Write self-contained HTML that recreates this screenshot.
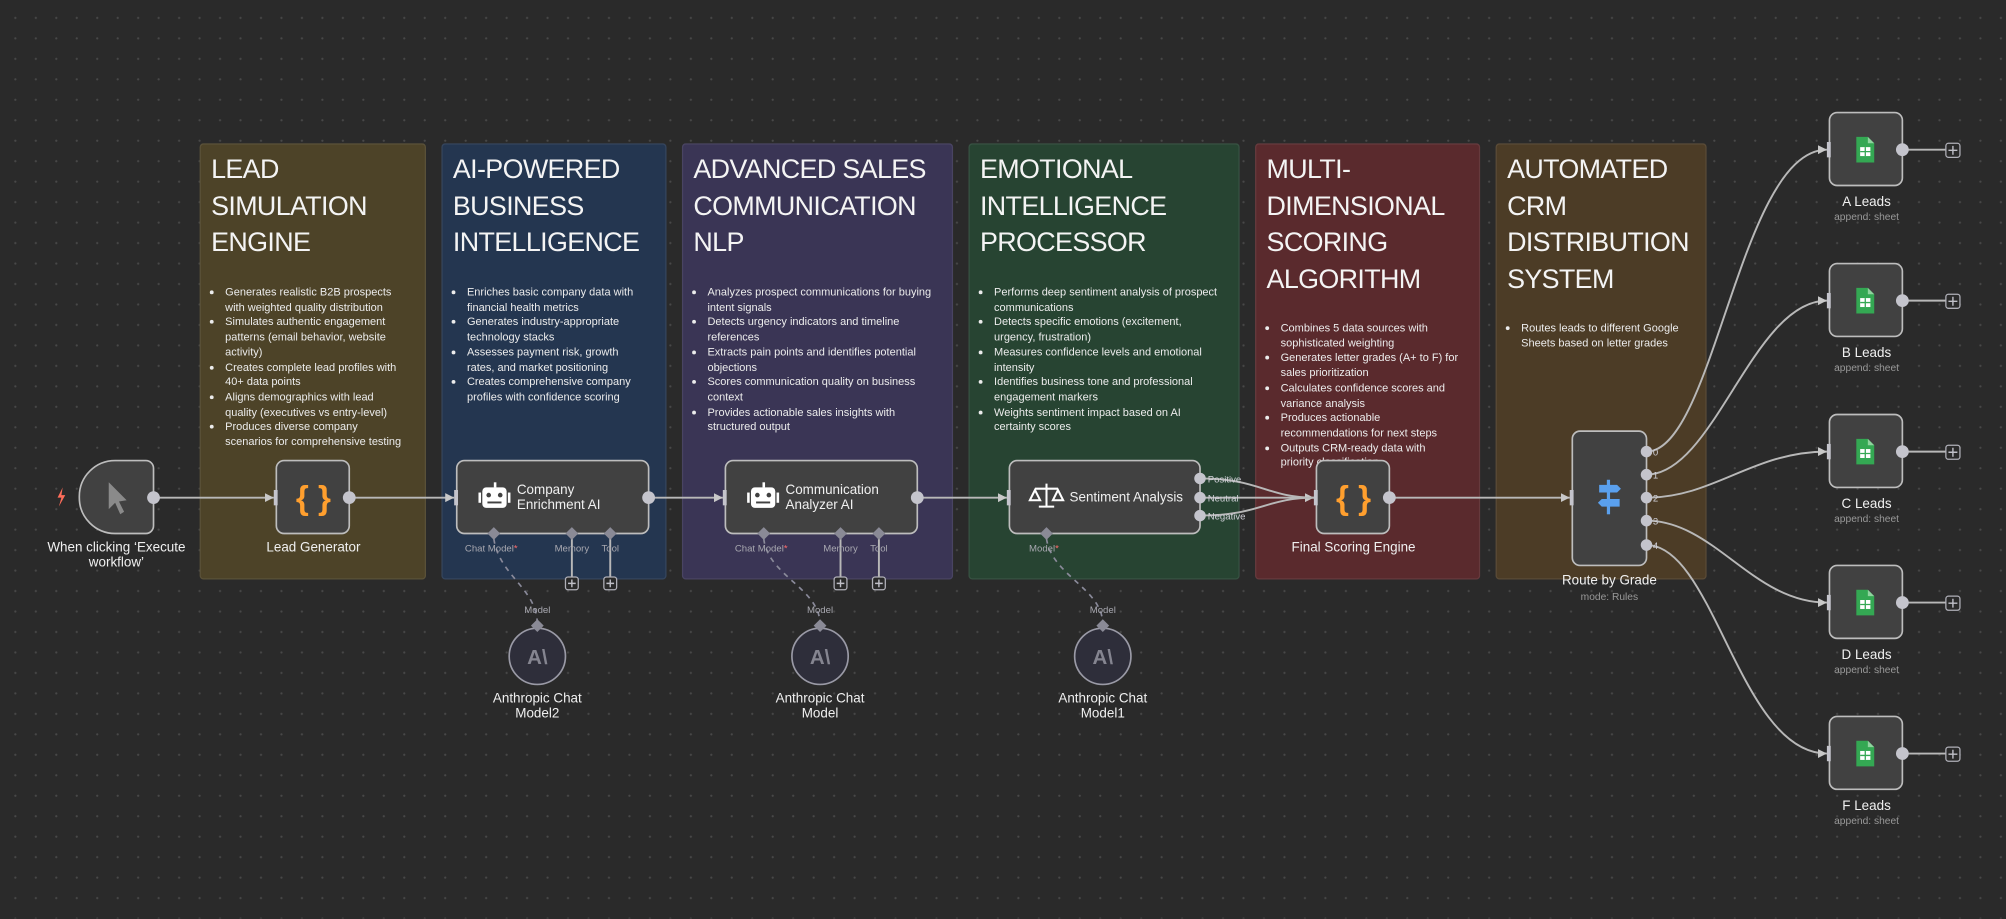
<!DOCTYPE html>
<html><head><meta charset="utf-8"><style>
html,body{margin:0;padding:0;width:2006px;height:918px;overflow:hidden;background:#2a2a2a;}
#c{position:absolute;left:0;top:0;width:1568px;height:718px;transform:scale(1.27934);transform-origin:0 0;
background-color:#2a2a2a;background-image:radial-gradient(circle,#484848 0.7px,transparent 1px);background-size:16px 16px;background-position:4px 6px;
font-family:"Liberation Sans",sans-serif;color:#fff;}
.st{position:absolute;top:112px;height:341px;border:1px solid rgba(255,255,255,0.08);border-radius:3px;box-sizing:border-box;padding:6px 8px;}
.st h1{margin:0;font-size:21px;font-weight:normal;line-height:28.5px;letter-spacing:-0.5px;color:#f4f4f4;}
.st ul{position:absolute;top:110px;left:8px;right:14px;margin:0;padding-left:11px;font-size:8.6px;line-height:11.7px;color:#ececec;}
.st li{margin-bottom:0px}
.lbl{position:absolute;text-align:center;font-size:10.5px;line-height:12px;color:#f0f0f0;}
.sub{position:absolute;text-align:center;font-size:8px;color:#999;}
</style></head><body><div id="c">
<div class="st" style="left:156px;width:177px;background:#4d4328;"><h1>LEAD<br>SIMULATION<br>ENGINE</h1>
<ul><li>Generates realistic B2B prospects with weighted quality distribution</li><li>Simulates authentic engagement patterns (email behavior, website activity)</li><li>Creates complete lead profiles with 40+ data points</li><li>Aligns demographics with lead quality (executives vs entry-level)</li><li>Produces diverse company scenarios for comprehensive testing</li></ul></div>
<div class="st" style="left:345px;width:176px;background:#243650;"><h1>AI-POWERED<br>BUSINESS<br>INTELLIGENCE</h1>
<ul><li>Enriches basic company data with financial health metrics</li><li>Generates industry-appropriate technology stacks</li><li>Assesses payment risk, growth rates, and market positioning</li><li>Creates comprehensive company profiles with confidence scoring</li></ul></div>
<div class="st" style="left:533px;width:212px;background:#3a3555;"><h1>ADVANCED SALES<br>COMMUNICATION<br>NLP</h1>
<ul><li>Analyzes prospect communications for buying intent signals</li><li>Detects urgency indicators and timeline references</li><li>Extracts pain points and identifies potential objections</li><li>Scores communication quality on business context</li><li>Provides actionable sales insights with structured output</li></ul></div>
<div class="st" style="left:757px;width:212px;background:#274432;"><h1>EMOTIONAL<br>INTELLIGENCE<br>PROCESSOR</h1>
<ul><li>Performs deep sentiment analysis of prospect communications</li><li>Detects specific emotions (excitement, urgency, frustration)</li><li>Measures confidence levels and emotional intensity</li><li>Identifies business tone and professional engagement markers</li><li>Weights sentiment impact based on AI certainty scores</li></ul></div>
<div class="st" style="left:981px;width:176px;background:#5a2a2d;"><h1>MULTI-<br>DIMENSIONAL<br>SCORING<br>ALGORITHM</h1>
<ul style="top:138px"><li>Combines 5 data sources with sophisticated weighting</li><li>Generates letter grades (A+ to F) for sales prioritization</li><li>Calculates confidence scores and variance analysis</li><li>Produces actionable recommendations for next steps</li><li>Outputs CRM-ready data with priority classification</li></ul></div>
<div class="st" style="left:1169px;width:165px;background:#4c3c26;"><h1>AUTOMATED<br>CRM<br>DISTRIBUTION<br>SYSTEM</h1>
<ul style="top:138px"><li>Routes leads to different Google Sheets based on letter grades</li></ul></div>

<svg width="1568" height="718" style="position:absolute;left:0;top:0" font-family="Liberation Sans, sans-serif">
<defs><marker id="ar" markerWidth="8" markerHeight="8" refX="7" refY="4" orient="auto" markerUnits="userSpaceOnUse"><path d="M0,0.5 L7,4 L0,7.5z" fill="#c8c8c8"/></marker></defs>
<g stroke="#b8b8b8" stroke-width="1.5" fill="none">
<path d="M120,389 H214" marker-end="url(#ar)"/>
<path d="M273,389 H355" marker-end="url(#ar)"/>
<path d="M507,389 H565" marker-end="url(#ar)"/>
<path d="M717,389 H787" marker-end="url(#ar)"/>
<path d="M938,374 C985,374 990,389 1027,389" marker-end="url(#ar)"/>
<path d="M938,389 H1027"/>
<path d="M938,403 C985,403 990,389 1027,389"/>
<path d="M1086,389 H1227" marker-end="url(#ar)"/>
<path d="M1287,353 C1340,353 1360,117 1428,117" marker-end="url(#ar)"/>
<path d="M1287,371 C1340,371 1370,235 1428,235" marker-end="url(#ar)"/>
<path d="M1287,389 C1340,389 1370,353 1428,353" marker-end="url(#ar)"/>
<path d="M1287,407 C1340,407 1370,471 1428,471" marker-end="url(#ar)"/>
<path d="M1287,426 C1340,426 1360,589 1428,589" marker-end="url(#ar)"/>
<path d="M447,417 V452 M477,417 V452 M657,417 V452 M687,417 V452"/>
</g>
<g stroke="#b8b8b8" stroke-width="1.5" fill="none">
<path d="M1487,117 H1521 M1487,235 H1521 M1487,353 H1521 M1487,471 H1521 M1487,589 H1521"/>
</g>
<g stroke="#8a8a9a" stroke-width="1.3" fill="none" stroke-dasharray="4,4">
<path d="M386,421 C390,450 420,460 420,488"/>
<path d="M597,421 C600,450 641,460 641,488"/>
<path d="M818,421 C822,450 862,460 862,488"/>
</g>
<g fill="#414141" stroke="#bdbdbd" stroke-width="1.3">
<path d="M90,360 H114 a6,6 0 0 1 6,6 V411 a6,6 0 0 1 -6,6 H90 a28,28 0 0 1 -28,-28 V388 a28,28 0 0 1 28,-28z"/>
<rect x="216" y="360" width="57" height="57" rx="6"/>
<rect x="357" y="360" width="150" height="57" rx="6"/>
<rect x="567" y="360" width="150" height="57" rx="6"/>
<rect x="789" y="360" width="149" height="57" rx="6"/>
<rect x="1029" y="360" width="57" height="57" rx="6"/>
<rect x="1229" y="337" width="58" height="105" rx="6"/>
<rect x="1430" y="88" width="57" height="57" rx="6"/>
<rect x="1430" y="206" width="57" height="57" rx="6"/>
<rect x="1430" y="324" width="57" height="57" rx="6"/>
<rect x="1430" y="442" width="57" height="57" rx="6"/>
<rect x="1430" y="560" width="57" height="57" rx="6"/>
</g>
<g fill="#2e2e3a" stroke="#9a9aa6" stroke-width="1.3">
<circle cx="420" cy="513" r="22"/><circle cx="641" cy="513" r="22"/><circle cx="862" cy="513" r="22"/>
</g>
<g fill="#858590" font-weight="bold" font-size="16" text-anchor="middle">
<text x="420" y="519">A\</text><text x="641" y="519">A\</text><text x="862" y="519">A\</text></g>
<g fill="#c4c4cc">
<circle cx="120" cy="389" r="5"/><circle cx="273" cy="389" r="5"/><circle cx="507" cy="389" r="5"/><circle cx="717" cy="389" r="5"/>
<circle cx="938" cy="374" r="4.5"/><circle cx="938" cy="389" r="4.5"/><circle cx="938" cy="403" r="4.5"/><circle cx="1086" cy="389" r="5"/>
<circle cx="1287" cy="353" r="4.5"/><circle cx="1287" cy="371" r="4.5"/><circle cx="1287" cy="389" r="4.5"/><circle cx="1287" cy="407" r="4.5"/><circle cx="1287" cy="426" r="4.5"/>
<circle cx="1487" cy="117" r="5"/><circle cx="1487" cy="235" r="5"/><circle cx="1487" cy="353" r="5"/><circle cx="1487" cy="471" r="5"/><circle cx="1487" cy="589" r="5"/>
<rect x="214" y="383" width="3" height="12"/><rect x="355" y="383" width="3" height="12"/><rect x="565" y="383" width="3" height="12"/><rect x="787" y="383" width="3" height="12"/><rect x="1027" y="383" width="3" height="12"/><rect x="1227" y="383" width="3" height="12"/>
<rect x="1428" y="111" width="3" height="12"/><rect x="1428" y="229" width="3" height="12"/><rect x="1428" y="347" width="3" height="12"/><rect x="1428" y="465" width="3" height="12"/><rect x="1428" y="583" width="3" height="12"/>
</g>
<g fill="#8a8a96">
<path d="M386,412 l5,5 -5,5 -5,-5z M447,412 l5,5 -5,5 -5,-5z M477,412 l5,5 -5,5 -5,-5z M597,412 l5,5 -5,5 -5,-5z M657,412 l5,5 -5,5 -5,-5z M687,412 l5,5 -5,5 -5,-5z M818,412 l5,5 -5,5 -5,-5z M420,484 l5,5 -5,5 -5,-5z M641,484 l5,5 -5,5 -5,-5z M862,484 l5,5 -5,5 -5,-5z"/>
</g>
<g font-size="7.5" fill="#a8a8b0" text-anchor="middle">
<text x="384" y="431">Chat Model<tspan fill="#ff6b6b">*</tspan></text><text x="447" y="431">Memory</text><text x="477" y="431">Tool</text>
<text x="595" y="431">Chat Model<tspan fill="#ff6b6b">*</tspan></text><text x="657" y="431">Memory</text><text x="687" y="431">Tool</text>
<text x="816" y="431">Model<tspan fill="#ff6b6b">*</tspan></text>
<text x="420" y="479">Model</text><text x="641" y="479">Model</text><text x="862" y="479">Model</text>
</g>
<g font-size="7.5" fill="#d0d0d8">
<text x="944" y="377">Positive</text><text x="944" y="392">Neutral</text><text x="944" y="406">Negative</text>
<text x="1292" y="356">0</text><text x="1292" y="374">1</text><text x="1292" y="392">2</text><text x="1292" y="410">3</text><text x="1292" y="429">4</text>
</g>
<g fill="#2a2a2a" stroke="#b0b0b8" stroke-width="1">
<rect x="442" y="451" width="10" height="10" rx="2"/><rect x="472" y="451" width="10" height="10" rx="2"/><rect x="652" y="451" width="10" height="10" rx="2"/><rect x="682" y="451" width="10" height="10" rx="2"/>
<rect x="1521" y="112" width="11" height="11" rx="2"/><rect x="1521" y="230" width="11" height="11" rx="2"/><rect x="1521" y="348" width="11" height="11" rx="2"/><rect x="1521" y="466" width="11" height="11" rx="2"/><rect x="1521" y="584" width="11" height="11" rx="2"/>
</g>
<g stroke="#c0c0c8" stroke-width="1.1">
<path d="M447,453 v6 M444,456 h6 M477,453 v6 M474,456 h6 M657,453 v6 M654,456 h6 M687,453 v6 M684,456 h6"/>
<path d="M1526.5,114 v7 M1523,117.5 h7 M1526.5,232 v7 M1523,235.5 h7 M1526.5,350 v7 M1523,353.5 h7 M1526.5,468 v7 M1523,471.5 h7 M1526.5,586 v7 M1523,589.5 h7"/>
</g>
<path d="M85,377 L85,398 L90,393 L94,402 L97,400 L93,392 L99,391z" fill="#8a8a8a"/>
<path d="M49,381 L45,389 L48,389 L46,396 L51,387 L48,387z" fill="#ff6d5a"/>
<g font-size="26" fill="#ff9f2e" text-anchor="middle" font-weight="bold"><text x="245" y="398">{ }</text><text x="1058" y="398">{ }</text></g>
<g fill="#fff">
<rect x="377" y="381" width="19" height="16" rx="3"/><rect x="374" y="385" width="2" height="8"/><rect x="397" y="385" width="2" height="8"/><rect x="386" y="377" width="2" height="4"/>
<rect x="587" y="381" width="19" height="16" rx="3"/><rect x="584" y="385" width="2" height="8"/><rect x="607" y="385" width="2" height="8"/><rect x="596" y="377" width="2" height="4"/>
</g>
<g fill="#414141"><circle cx="382" cy="387" r="1.8"/><circle cx="391" cy="387" r="1.8"/><rect x="381" y="392" width="11" height="1.5"/>
<circle cx="592" cy="387" r="1.8"/><circle cx="601" cy="387" r="1.8"/><rect x="591" y="392" width="11" height="1.5"/></g>
<g stroke="#fff" stroke-width="1.6" fill="none"><path d="M818,378 v18 M812,396 h12 M809,382 h18 M809,383 l-4,8 h8z M827,383 l-4,8 h8z"/></g>
<g fill="#5aa0ee"><path d="M1250,379 h14 l3,3 -3,3 h-14z M1266,390 h-14 l-3,3 3,3 h14z"/><rect x="1256" y="375" width="2.5" height="27"/></g>
<g>
<g id="sh"><path d="M1451,107 h9 l5,5 v15 h-14z" fill="#34a853"/><path d="M1460,107 v5 h5z" fill="#8fd49e"/><rect x="1454" y="115" width="8" height="7" fill="#fff"/><path d="M1454,118.5 h8 M1458,115 v7" stroke="#34a853" stroke-width="1"/></g>
<use href="#sh" y="118"/><use href="#sh" y="236"/><use href="#sh" y="354"/><use href="#sh" y="472"/>
</g>
</svg>
<div class="lbl" style="left:31px;width:120px;top:422px">When clicking ‘Execute workflow’</div>
<div class="lbl" style="left:195px;width:100px;top:422px">Lead Generator</div>
<div class="lbl" style="left:404px;width:100px;top:377px;text-align:left">Company<br>Enrichment AI</div>
<div class="lbl" style="left:614px;width:100px;top:377px;text-align:left">Communication<br>Analyzer AI</div>
<div class="lbl" style="left:836px;width:100px;top:383px;text-align:left">Sentiment Analysis</div>
<div class="lbl" style="left:993px;width:130px;top:422px">Final Scoring Engine</div>
<div class="lbl" style="left:1208px;width:100px;top:448px">Route by Grade</div>
<div class="sub" style="left:1208px;width:100px;top:462px">mode: Rules</div>
<div class="lbl" style="left:1409px;width:100px;top:152px">A Leads</div><div class="sub" style="left:1409px;width:100px;top:165px">append: sheet</div>
<div class="lbl" style="left:1409px;width:100px;top:270px">B Leads</div><div class="sub" style="left:1409px;width:100px;top:283px">append: sheet</div>
<div class="lbl" style="left:1409px;width:100px;top:388px">C Leads</div><div class="sub" style="left:1409px;width:100px;top:401px">append: sheet</div>
<div class="lbl" style="left:1409px;width:100px;top:506px">D Leads</div><div class="sub" style="left:1409px;width:100px;top:519px">append: sheet</div>
<div class="lbl" style="left:1409px;width:100px;top:624px">F Leads</div><div class="sub" style="left:1409px;width:100px;top:637px">append: sheet</div>
<div class="lbl" style="left:370px;width:100px;top:540px">Anthropic Chat<br>Model2</div>
<div class="lbl" style="left:591px;width:100px;top:540px">Anthropic Chat<br>Model</div>
<div class="lbl" style="left:812px;width:100px;top:540px">Anthropic Chat<br>Model1</div>
</div></body></html>
